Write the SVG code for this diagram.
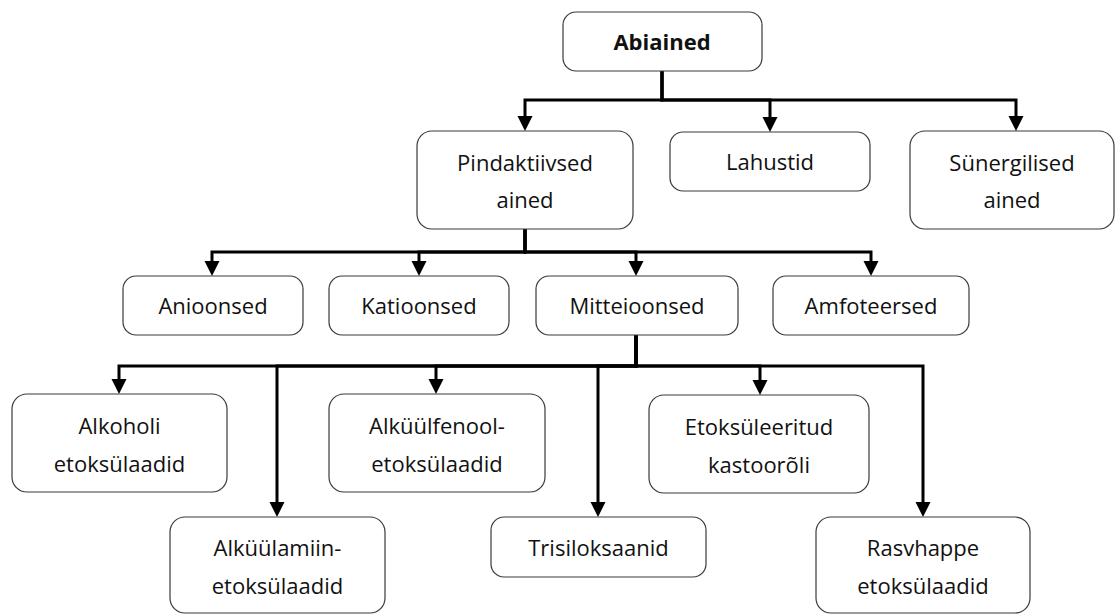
<svg xmlns="http://www.w3.org/2000/svg" width="1117" height="614" viewBox="0 0 1117 614">
<style>
.box{fill:#fff;stroke:#3a3a3a;stroke-width:1.2}
.t{font-family:"Open Sans","Liberation Sans",sans-serif;font-size:22px;fill:#111;text-anchor:middle}
.b{font-weight:bold}
.c{fill:none;stroke:#000;stroke-width:3;marker-end:url(#ah)}
</style>
<defs>
<marker id="ah" markerUnits="userSpaceOnUse" markerWidth="16" markerHeight="16" viewBox="0 0 16 16" refX="0" refY="8" orient="auto" overflow="visible">
<path d="M0,0.5 L15,8 L0,15.5 Z" fill="#000"/>
</marker>
</defs>
<rect width="1117" height="614" fill="#fff"/>
<g id="connectors">
<path class="c" d="M662,71 V100 H525 V116"/>
<path class="c" d="M662,71 V100 H770 V117"/>
<path class="c" d="M662,71 V100 H1016 V116"/>
<path class="c" d="M525,229 V252 H212 V261"/>
<path class="c" d="M525,229 V252 H419 V261"/>
<path class="c" d="M525,229 V252 H636 V261"/>
<path class="c" d="M525,229 V252 H871 V261"/>
<path class="c" d="M636,335 V366 H119 V379"/>
<path class="c" d="M636,335 V366 H277 V502"/>
<path class="c" d="M636,335 V366 H436 V379"/>
<path class="c" d="M636,335 V366 H598 V502"/>
<path class="c" d="M636,335 V366 H760 V380"/>
<path class="c" d="M636,335 V366 H923 V502"/>
</g>
<g id="abiained"><rect class="box" x="563" y="12" width="199" height="59" rx="13"/><text class="t b" x="662" y="50">Abiained</text></g>
<g id="pindaktiivsed"><rect class="box" x="417" y="131" width="216" height="98" rx="15"/><text class="t" x="525" y="171">Pindaktiivsed</text><text class="t" x="525" y="208">ained</text></g>
<g id="lahustid"><rect class="box" x="670" y="132" width="200" height="59" rx="13"/><text class="t" x="770" y="170">Lahustid</text></g>
<g id="synergilised"><rect class="box" x="910" y="131" width="204" height="98" rx="15"/><text class="t" x="1012" y="171">Sünergilised</text><text class="t" x="1012" y="208">ained</text></g>
<g id="anioonsed"><rect class="box" x="123" y="276" width="180" height="59" rx="13"/><text class="t" x="213" y="314">Anioonsed</text></g>
<g id="katioonsed"><rect class="box" x="329" y="276" width="180" height="59" rx="13"/><text class="t" x="419" y="314">Katioonsed</text></g>
<g id="mitteioonsed"><rect class="box" x="536" y="276" width="202" height="59" rx="13"/><text class="t" x="637" y="314">Mitteioonsed</text></g>
<g id="amfoteersed"><rect class="box" x="773" y="276" width="196" height="59" rx="13"/><text class="t" x="871" y="314">Amfoteersed</text></g>
<g id="alkoholi"><rect class="box" x="12" y="394" width="215" height="98" rx="15"/><text class="t" x="119.5" y="434">Alkoholi</text><text class="t" x="119.5" y="472">etoksülaadid</text></g>
<g id="alkyylfenool"><rect class="box" x="329" y="394" width="216" height="98" rx="15"/><text class="t" x="437" y="434">Alküülfenool-</text><text class="t" x="437" y="472">etoksülaadid</text></g>
<g id="etoksyleeritud"><rect class="box" x="649" y="395" width="220" height="98" rx="15"/><text class="t" x="759" y="435">Etoksüleeritud</text><text class="t" x="759" y="473">kastoorõli</text></g>
<g id="alkyylamiin"><rect class="box" x="170" y="517" width="215" height="96" rx="15"/><text class="t" x="277.5" y="556">Alküülamiin-</text><text class="t" x="277.5" y="594">etoksülaadid</text></g>
<g id="trisiloksaanid"><rect class="box" x="491" y="517" width="215" height="60" rx="13"/><text class="t" x="598.5" y="556">Trisiloksaanid</text></g>
<g id="rasvhappe"><rect class="box" x="816" y="517" width="214" height="96" rx="15"/><text class="t" x="923" y="556">Rasvhappe</text><text class="t" x="923" y="594">etoksülaadid</text></g>
</svg>
